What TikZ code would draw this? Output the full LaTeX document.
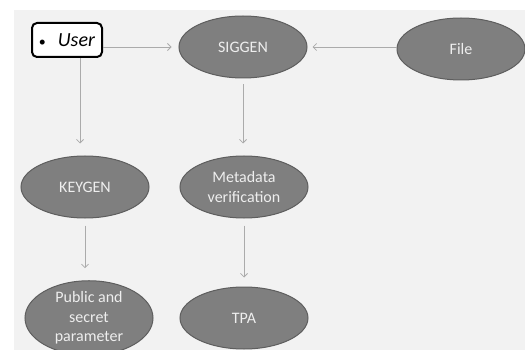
\documentclass[tikz,border=0pt]{standalone}
\usepackage{fontspec}
\setmainfont{Carlito}
\usetikzlibrary{shapes.geometric,arrows.meta}
\definecolor{bgc}{HTML}{F2F2F2}
\definecolor{ellfill}{HTML}{7F7F7F}
\definecolor{elldraw}{HTML}{5E5E5E}
\definecolor{arrc}{HTML}{ABABAB}
\definecolor{txtc}{HTML}{EEEEEE}
\tikzset{
  ell/.style={ellipse, draw=elldraw, line width=1pt, fill=ellfill, minimum width=128pt, minimum height=62pt, inner sep=0pt, align=center, text=txtc, font=\fontsize{16}{19.5}\selectfont},
  userbox/.style={draw=black, line width=2pt, rounded corners=5pt, fill=white, minimum width=70pt, minimum height=34pt, inner sep=0pt, font=\fontsize{20}{22}\selectfont},
  arr/.style={draw=arrc, line width=0.8pt, -{Straight Barb[length=3.5pt,width=7pt]}}
}
\begin{document}
\begin{tikzpicture}[x=1pt,y=-1pt]
\useasboundingbox (0,0) rectangle (525,350);
\fill[bgc] (14,10) rectangle (525,350);
\node[userbox] (user) at (67,40) {{\fontsize{14}{14}\selectfont\textbullet}\hspace{12pt}\textit{User}};
\node[ell] (siggen) at (243,47) {SIGGEN};
\node[ell] (file) at (461,49) {File};
\node[ell] (keygen) at (85,187) {KEYGEN};
\node[ell] (meta) at (244,187) {Metadata\\verification};
\node[ell] (pub) at (89,318) {Public and\\secret\\parameter};
\node[ell] (tpa) at (244,318) {TPA};
\coordinate (ux) at (80,0);
\draw[arr, shorten >=7pt] (user.east |- siggen) -- (siggen.west);
\draw[arr, shorten >=5pt] (file.west |- siggen) -- (siggen.east);
\draw[arr, shorten >=12pt] (user.south -| ux) -- (keygen.north -| ux);
\draw[arr, shorten <=6pt, shorten >=12pt] (siggen.south) -- (siggen.south |- meta.north);
\draw[arr, shorten <=7pt, shorten >=12pt] (keygen.south) -- (keygen.south |- pub.north);
\draw[arr, shorten <=7pt, shorten >=9pt] (meta.south) -- (tpa.north);
\end{tikzpicture}
\end{document}
